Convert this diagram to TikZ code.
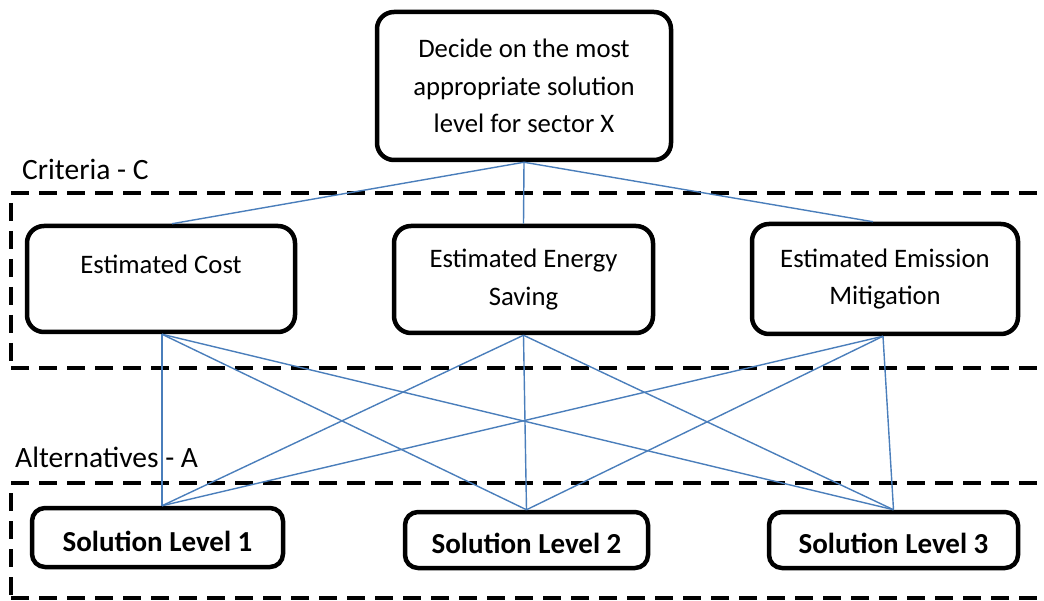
\documentclass[tikz,border=0pt]{standalone}
\usepackage{fontspec}
\setmainfont{Carlito}
\definecolor{linkblue}{HTML}{4A7EBB}
\begin{document}
\begin{tikzpicture}[x=1pt,y=-1pt,
  box/.style={draw=black, line width=4.5pt, rounded corners=17pt, fill=white,
    align=center, inner sep=0pt, font=\fontsize{26.7}{37.5}\selectfont},
  solbox/.style={box, rounded corners=13pt, text height=27pt, text depth=0pt,
    font=\fontsize{29}{32}\selectfont\bfseries},
  link/.style={draw=linkblue, line width=1.4pt},
  zone/.style={draw=black, line width=4pt, dash pattern=on 18pt off 10pt},
  zoneside/.style={zone, dash phase=18pt},
  zonelabel/.style={anchor=base west, inner sep=0pt, font=\fontsize{29.5}{32}\selectfont}]
\useasboundingbox (0,0) rectangle (1044,601);

% dashed zones for criteria and alternatives (open towards the right edge)
\coordinate (critTL) at (11,193);
\coordinate (critBL) at (11,368);
\coordinate (altTL) at (11,483);
\coordinate (altBL) at (11,598);
\draw[zone] (critTL) -- ++(1060,0);
\draw[zone] (critBL) -- ++(1060,0);
\draw[zoneside] (critTL) -- (critBL);
\draw[zone] (altTL) -- ++(1060,0);
\draw[zone] (altBL) -- ++(1060,0);
\draw[zoneside] (altTL) -- (altBL);
\node[zonelabel] (critlabel) at (22,180) {Criteria - C};
\node[zonelabel] (altlabel) at (15,467) {Alternatives - A};

% goal, criteria and alternatives
\node[box, minimum width=294pt, minimum height=148pt] (goal) at (524,86)
  {Decide on the most\\appropriate solution\\level for sector X};
\node[box, minimum width=268pt, minimum height=106pt, text height=10pt, text depth=20pt] (cost) at (161,279)
  {Estimated Cost};
\node[box, minimum width=259pt, minimum height=107pt] (saving) at (523.5,279.5)
  {Estimated Energy\\Saving};
\node[box, minimum width=266pt, minimum height=110pt] (emission) at (885,279)
  {Estimated Emission\\Mitigation};
\node[solbox, minimum width=251pt, minimum height=59pt] (sol1) at (157.5,537.5) {Solution Level 1};
\node[solbox, minimum width=243pt, minimum height=56pt] (sol2) at (526.5,540) {Solution Level 2};
\node[solbox, minimum width=249pt, minimum height=56pt] (sol3) at (893.5,540) {Solution Level 3};

% connectors: goal to criteria, criteria to every alternative
\draw[link] (goal.south) -- ([xshift=11pt]cost.north);
\draw[link] (goal.south) -- (saving.north);
\draw[link] (goal.south) -- ([xshift=-12pt]emission.north);
\foreach \c/\dx in {cost/1, saving/0, emission/-2} {
  \draw[link] ([xshift=\dx pt]\c.south) -- ([xshift=4.5pt]sol1.north);
  \draw[link] ([xshift=\dx pt]\c.south) -- (sol2.north);
  \draw[link] ([xshift=\dx pt]\c.south) -- (sol3.north);
}
\end{tikzpicture}
\end{document}
